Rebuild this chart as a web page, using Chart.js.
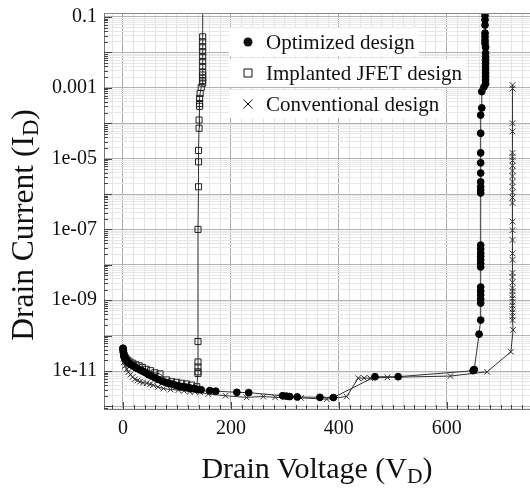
<!DOCTYPE html>
<html>
<head>
<meta charset="utf-8">
<script src="https://cdn.jsdelivr.net/npm/chart.js@4.4.0/dist/chart.umd.min.js"></script>
<style>
html,body{margin:0;padding:0;background:#fff;}
#wrap{position:relative;width:530px;height:489px;overflow:hidden;background:#fff;}
#c{position:absolute;left:0;top:0;}
.ttl{position:absolute;font-family:"Liberation Serif","Times New Roman",serif;color:#111;white-space:nowrap;text-align:center;}
.ttl sub{font-size:72%;vertical-align:-0.22em;line-height:0;}
#xt{left:104px;width:426px;top:453px;font-size:30px;line-height:30px;}
#yt{left:-177px;width:400px;top:209px;font-size:31.5px;line-height:32px;transform:rotate(-90deg);transform-origin:50% 50%;}
</style>
</head>
<body>
<div id="wrap">
<canvas id="c" width="530" height="489"></canvas>
<div class="ttl" id="xt">Drain Voltage (V<sub>D</sub>)</div>
<div class="ttl" id="yt">Drain Current (I<sub>D</sub>)</div>
</div>
<script>
// ---------- data ----------
const seriesNames = ['Optimized design', 'Implanted JFET design', 'Conventional design'];

const optimizedVoltage = [0,0.5,1,1.5,2,3,4,5,7,9,12,15,19,23,27,32,37,42,47,53,59,65,72,78,84,90,96,102,108,115,121,127,133,139,145,161,172,211,233,296,303,309,323,365,390,467,510,649,650,651,660,663,663,663,663,663,663,663,663,663,663,663,663,663,663,663,663,663,663,663,663,663,663,665,665,669,672,672,672,672,672,672,672,672,672,672,672,671,671,671,671,671,671,671,671];
const optimizedCurrent = [4.4e-11,3.8e-11,3.3e-11,2.9e-11,2.6e-11,2.4e-11,2.2e-11,2.0e-11,1.9e-11,1.8e-11,1.6e-11,1.5e-11,1.4e-11,1.26e-11,1.17e-11,1.07e-11,9.8e-12,8.9e-12,7.9e-12,7.2e-12,6.5e-12,5.8e-12,5.2e-12,4.8e-12,4.5e-12,4.3e-12,4.0e-12,3.8e-12,3.6e-12,3.5e-12,3.4e-12,3.2e-12,3.16e-12,3.0e-12,2.95e-12,2.8e-12,2.7e-12,2.5e-12,2.45e-12,2.0e-12,1.95e-12,1.9e-12,1.85e-12,1.8e-12,1.78e-12,6.9e-12,6.9e-12,1.02e-11,1.07e-11,1.1e-11,1.1e-10,2.75e-10,8.3e-10,1.07e-9,1.4e-9,1.8e-9,2.35e-9,8.7e-9,1.1e-8,1.38e-8,1.74e-8,2.14e-8,2.8e-8,3.6e-8,1.07e-6,1.3e-6,1.6e-6,2.2e-6,3.9e-6,7.6e-6,1.45e-5,5.2e-5,1.7e-4,2.7e-4,7.8e-4,1.05e-3,1.3e-3,1.66e-3,2.1e-3,2.6e-3,3.2e-3,3.9e-3,4.9e-3,6.2e-3,7.6e-3,9.5e-3,0.014,0.018,0.022,0.028,0.035,0.059,0.083,0.11];

const implantedVoltage = [0,1,2,4,6,9,13,18,24,30,36,43,51,59,68.6,81,90,99.5,108.8,118,127,136.6,139,139,139,139,139,139,140,140,140,141,141,142,142,142,143,145,147.7,147.7,147.7,147.7,147.7,147.7,147.7,147.7,147.7,147.7,147.7,147.7,148];
const implantedCurrent = [4.0e-11,3.2e-11,2.75e-11,2.4e-11,2.2e-11,2.0e-11,1.8e-11,1.66e-11,1.5e-11,1.4e-11,1.26e-11,1.12e-11,1.02e-11,8.9e-12,8.3e-12,5.6e-12,5.0e-12,4.8e-12,4.5e-12,4.3e-12,4.0e-12,3.6e-12,8.5e-12,9.5e-12,1.3e-11,1.8e-11,6.8e-11,1.0e-7,1.6e-6,8.1e-6,1.7e-5,7.2e-5,1.23e-4,3.0e-4,3.6e-4,5.0e-4,6.9e-4,1.02e-3,1.35e-3,1.6e-3,1.9e-3,2.3e-3,2.8e-3,4.0e-3,5.5e-3,7.6e-3,0.0105,0.0145,0.02,0.0275,0.2];

const conventionalVoltage = [0,1,2,4,7,10,14,18,22,27,31.5,37,44,50,56,65,75,88,102.5,113,124,133,143,158,190,229,260,282,300,330,377.6,414.6,436,447,458,490,607,675,719,723,722,722,722,722,722,722,722,722,722,722,722,722,722,722,722,722,722,722,722,722,722,722,722,722,722,722,722,722,722,722,722,722,722];
const conventionalCurrent = [2.8e-11,2.2e-11,1.8e-11,1.4e-11,1.12e-11,9.3e-12,7.9e-12,6.8e-12,5.8e-12,5.4e-12,5.0e-12,4.7e-12,4.5e-12,4.2e-12,4.0e-12,3.55e-12,3.2e-12,3.0e-12,2.9e-12,2.75e-12,2.6e-12,2.6e-12,2.5e-12,2.24e-12,2.0e-12,1.8e-12,1.9e-12,1.8e-12,1.8e-12,1.74e-12,1.6e-12,1.9e-12,6.3e-12,6.3e-12,6.3e-12,6.6e-12,7.2e-12,9.5e-12,3.5e-11,1.45e-10,2.75e-10,3.5e-10,4.5e-10,5.6e-10,7.1e-10,8.9e-10,1.12e-9,1.4e-9,1.8e-9,2.2e-9,3.2e-9,4.5e-9,5.9e-9,1.38e-8,2.1e-8,5.0e-8,9.5e-8,1.66e-7,5.6e-7,7.9e-7,1.12e-6,1.6e-6,2.2e-6,3.2e-6,4.5e-6,6.3e-6,8.9e-6,1.12e-5,1.45e-5,5.8e-5,1.0e-4,9.5e-4,1.2e-3,1.66e-3];

const xTickValues = [0, 200, 400, 600];
const xTickLabels = ['0', '200', '400', '600'];
const yTickValues = [0.1, 0.001, 1e-5, 1e-7, 1e-9, 1e-11];
const yTickLabels = ['0.1', '0.001', '1e-05', '1e-07', '1e-09', '1e-11'];

// ---------- axes extents ----------
const X_MIN = -35.2, X_MAX = 754.4;
const Y_MIN = 8.45e-13, Y_MAX = 0.1297;

const FONT = '"Liberation Serif","Times New Roman",serif';

function pts(xs, ys) { return xs.map((x, i) => ({ x: x, y: ys[i] })); }

// grid positions
const xGrid = [];
for (let v = -20; v <= 740; v += 20) xGrid.push(v);
const yGrid = [];
for (let e = -13; e <= -1; e++) {
  for (let m = 1; m <= 9; m++) {
    const v = m * Math.pow(10, e);
    if (v >= Y_MIN && v <= Y_MAX) yGrid.push(v);
  }
}
function isDecade(v) { const l = Math.log10(v); return Math.abs(l - Math.round(l)) < 1e-6; }
function yLabelFor(v) {
  for (let i = 0; i < yTickValues.length; i++) {
    if (Math.abs(Math.log10(v) - Math.log10(yTickValues[i])) < 1e-6) return yTickLabels[i];
  }
  return '';
}
function xLabelFor(v) {
  const i = xTickValues.indexOf(v);
  return i >= 0 ? xTickLabels[i] : '';
}
function noPad(s) { s.paddingTop = 0; s.paddingBottom = 0; s.paddingLeft = 0; s.paddingRight = 0; }

// inward tick marks + frame
const frameTicks = {
  id: 'frameTicks',
  afterDraw(chart) {
    const { ctx, chartArea: a, scales } = chart;
    ctx.save();
    ctx.strokeStyle = '#444';
    ctx.lineWidth = 1;
    ctx.beginPath();
    yGrid.forEach(v => {
      const y = Math.round(scales.y.getPixelForValue(v)) + 0.5;
      const len = isDecade(v) ? 8 : 4;
      ctx.moveTo(a.left, y); ctx.lineTo(a.left + len, y);
    });
    xGrid.forEach(v => {
      const x = Math.round(scales.x.getPixelForValue(v)) + 0.5;
      const len = (v % 200 === 0) ? 7 : 4;
      ctx.moveTo(x, a.bottom); ctx.lineTo(x, a.bottom - len);
    });
    ctx.stroke();
    ctx.strokeStyle = '#888';
    ctx.beginPath();
    ctx.moveTo(a.left, a.top + 0.5); ctx.lineTo(a.right, a.top + 0.5);
    ctx.stroke();
    ctx.restore();
  }
};

// legend inside the plot
const legendBox = {
  id: 'legendBox',
  afterDatasetsDraw(chart) {
    const ctx = chart.ctx;
    const rows = [
      { style: 'circle', cy: 42 },
      { style: 'rect', cy: 73 },
      { style: 'crossRot', cy: 104 }
    ];
    ctx.save();
    ctx.font = '21px ' + FONT;
    ctx.textBaseline = 'middle';
    rows.forEach((r, i) => {
      const w = ctx.measureText(seriesNames[i]).width;
      ctx.fillStyle = '#fff';
      ctx.fillRect(229, r.cy - 14, 266 + w + 4 - 229, 28);
      const mx = 248, my = r.cy;
      ctx.strokeStyle = '#111'; ctx.fillStyle = '#111'; ctx.lineWidth = 1;
      ctx.beginPath();
      if (r.style === 'circle') { ctx.arc(mx, my, 4.5, 0, Math.PI * 2); ctx.fill(); }
      else if (r.style === 'rect') { ctx.rect(mx - 4, my - 4, 8, 8); ctx.stroke(); }
      else { ctx.moveTo(mx - 4.5, my - 4.5); ctx.lineTo(mx + 4.5, my + 4.5); ctx.moveTo(mx + 4.5, my - 4.5); ctx.lineTo(mx - 4.5, my + 4.5); ctx.stroke(); }
      ctx.fillStyle = '#111';
      ctx.fillText(seriesNames[i], 266, r.cy + 1);
    });
    ctx.restore();
  }
};

const hideOutside = (r) => (c) => (c.raw && c.raw.y > Y_MAX) ? 0 : r;

new Chart(document.getElementById('c'), {
  type: 'scatter',
  data: {
    datasets: [
      {
        label: seriesNames[0], data: pts(optimizedVoltage, optimizedCurrent), showLine: true,
        borderColor: '#333', borderWidth: 1, pointStyle: 'circle', pointRadius: 3.4,
        pointBackgroundColor: '#000', pointBorderColor: '#000', pointBorderWidth: 1
      },
      {
        label: seriesNames[1], data: pts(implantedVoltage, implantedCurrent), showLine: true,
        borderColor: '#333', borderWidth: 1, pointStyle: 'rect', pointRadius: hideOutside(4.3),
        pointBackgroundColor: 'rgba(255,255,255,0)', pointBorderColor: '#222', pointBorderWidth: 1
      },
      {
        label: seriesNames[2], data: pts(conventionalVoltage, conventionalCurrent), showLine: true,
        borderColor: '#333', borderWidth: 1, pointStyle: 'crossRot', pointRadius: 4,
        pointBackgroundColor: '#333', pointBorderColor: '#333', pointBorderWidth: 1
      }
    ]
  },
  options: {
    responsive: false, animation: false, devicePixelRatio: 1,
    layout: { autoPadding: false, padding: { top: 13, right: 0, bottom: 0, left: 0 } },
    plugins: { legend: { display: false }, tooltip: { enabled: false } },
    scales: {
      x: {
        type: 'linear', min: X_MIN, max: X_MAX,
        afterFit(s) { s.height = 80; noPad(s); },
        afterBuildTicks(s) { s.ticks = xGrid.map(v => ({ value: v })); },
        ticks: { autoSkip: false, maxRotation: 0, padding: 8, color: '#111',
          font: { family: FONT, size: 20 }, callback: (v) => xLabelFor(v) },
        grid: { drawTicks: false, lineWidth: 1,
          color: (c) => (c.tick && c.tick.value % 200 === 0) ? '#a9a9a9' : '#e3e3e3' },
        border: { display: true, color: '#777', width: 1 }
      },
      y: {
        type: 'logarithmic', min: Y_MIN, max: Y_MAX,
        afterFit(s) { s.width = 104; noPad(s); },
        afterBuildTicks(s) { s.ticks = yGrid.map(v => ({ value: v })); },
        ticks: { autoSkip: false, padding: 7, color: '#111',
          font: { family: FONT, size: 20 }, callback: (v) => yLabelFor(v) },
        grid: { drawTicks: false, lineWidth: 1,
          color: (c) => (c.tick && isDecade(c.tick.value)) ? '#b3b3b3' : '#e8e8e8' },
        border: { display: true, color: '#777', width: 1 }
      }
    }
  },
  plugins: [frameTicks, legendBox]
});
</script>
</body>
</html>
